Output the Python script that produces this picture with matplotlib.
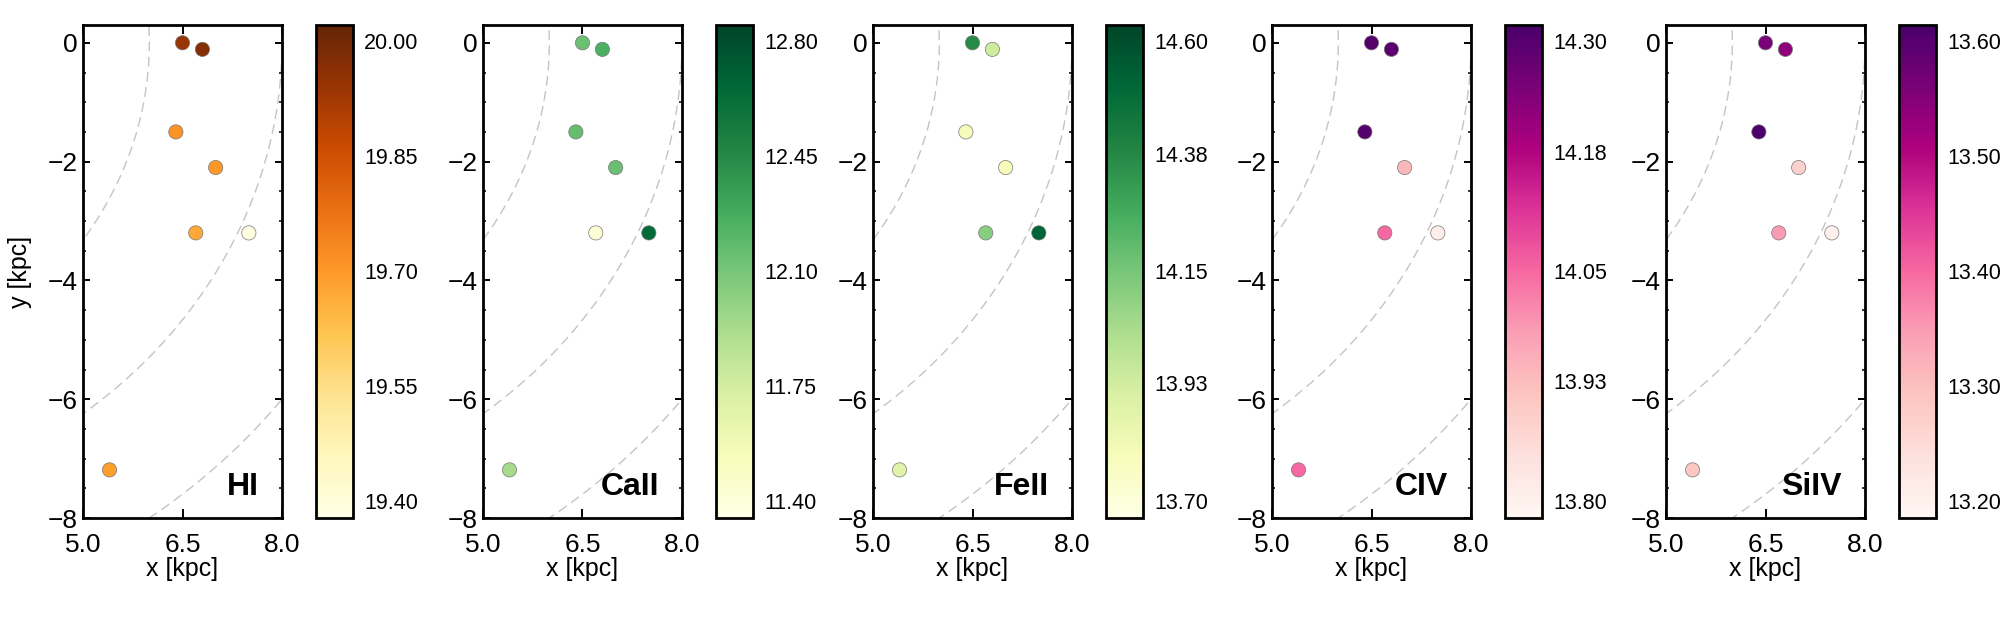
import numpy as np
import matplotlib
matplotlib.use("Agg")
import matplotlib.pyplot as plt
from matplotlib.ticker import MultipleLocator

plt.rcParams['font.family'] = ['Liberation Sans', 'DejaVu Sans']

# sightline positions (kpc)
x_pos = [6.50, 6.80, 6.40, 7.00, 6.70, 7.50, 5.40]
y_pos = [0.00, -0.11, -1.50, -2.10, -3.20, -3.20, -7.19]

# column densities (log N) per ion, same order as positions
logN_HI = [19.94, 19.97, 19.71, 19.70, 19.67, 19.39, 19.69]
logN_CaII = [12.14, 12.25, 12.16, 12.15, 11.42, 12.64, 11.93]
logN_FeII = [14.37, 13.94, 13.78, 13.79, 14.11, 14.52, 13.88]
logN_CIV = [14.30, 14.29, 14.30, 13.94, 14.05, 13.81, 14.05]
logN_SiIV = [13.56, 13.54, 13.61, 13.27, 13.35, 13.20, 13.29]

ions = ["HI", "CaII", "FeII", "CIV", "SiIV"]
cmaps = ["YlOrBr", "YlGn", "YlGn", "RdPu", "RdPu"]
cbar_ticks = [
    ["19.40", "19.55", "19.70", "19.85", "20.00"],
    ["11.40", "11.75", "12.10", "12.45", "12.80"],
    ["13.70", "13.93", "14.15", "14.38", "14.60"],
    ["13.80", "13.93", "14.05", "14.18", "14.30"],
    ["13.20", "13.30", "13.40", "13.50", "13.60"],
]
values = [logN_HI, logN_CaII, logN_FeII, logN_CIV, logN_SiIV]

# galactocentric radius circles (kpc)
radii = [6, 8, 10]

W, H = 2000, 619
fig = plt.figure(figsize=(W / 100, H / 100), dpi=100)

ax_left = [83, 483, 873, 1272, 1666]
ax_w, ax_top, ax_bot = 199, 25, 518

theta = np.linspace(-np.pi / 2, np.pi / 2, 400)

for i, ion in enumerate(ions):
    ax = fig.add_axes([ax_left[i] / W, 1 - ax_bot / H, ax_w / W, (ax_bot - ax_top) / H])
    for r in radii:
        ax.plot(r * np.cos(theta), r * np.sin(theta), color="#c4c4c4",
                lw=1.0, dashes=(7, 4), zorder=1)

    labels = cbar_ticks[i]
    lo, hi = float(labels[0]), float(labels[-1])
    span = (hi - lo) / 0.932
    vmin = lo - 0.035 * span
    vmax = vmin + span

    sc = ax.scatter(x_pos, y_pos, c=values[i], cmap=cmaps[i], vmin=vmin, vmax=vmax,
                    s=105, edgecolors="#777777", linewidths=0.5, zorder=3)

    ax.set_xlim(5, 8)
    ax.set_ylim(-8, 0.3)
    ax.set_xticks([5.0, 6.5, 8.0])
    ax.set_xticklabels(["5.0", "6.5", "8.0"])
    ax.set_yticks([0, -2, -4, -6, -8])
    ax.yaxis.set_minor_locator(MultipleLocator(0.5))
    ax.tick_params(which="both", direction="in", top=True, right=True, labelsize=19, width=1.4)
    ax.tick_params(axis="x", which="major", length=6.5, pad=11)
    ax.tick_params(axis="y", which="major", length=5, pad=4)
    ax.tick_params(which="minor", length=2.5, width=1.1)
    for sp in ax.spines.values():
        sp.set_linewidth(2)
    ax.set_xlabel("x [kpc]", fontsize=18, labelpad=0)
    if i == 0:
        ax.set_ylabel("y [kpc]", fontsize=18, labelpad=11)
    ax.text(0.884, 0.047, ion, transform=ax.transAxes, ha="right", va="baseline",
            fontsize=23, fontweight="bold")

    cax = fig.add_axes([(ax_left[i] + 233) / W, 1 - ax_bot / H, 37 / W, (ax_bot - ax_top) / H])
    cb = fig.colorbar(sc, cax=cax)
    cb.set_ticks([float(t) for t in labels])
    cb.set_ticklabels(labels)
    cb.ax.tick_params(length=0, labelsize=15.5, pad=8)
    cb.outline.set_linewidth(2)

fig.savefig("out.png", dpi=100)
